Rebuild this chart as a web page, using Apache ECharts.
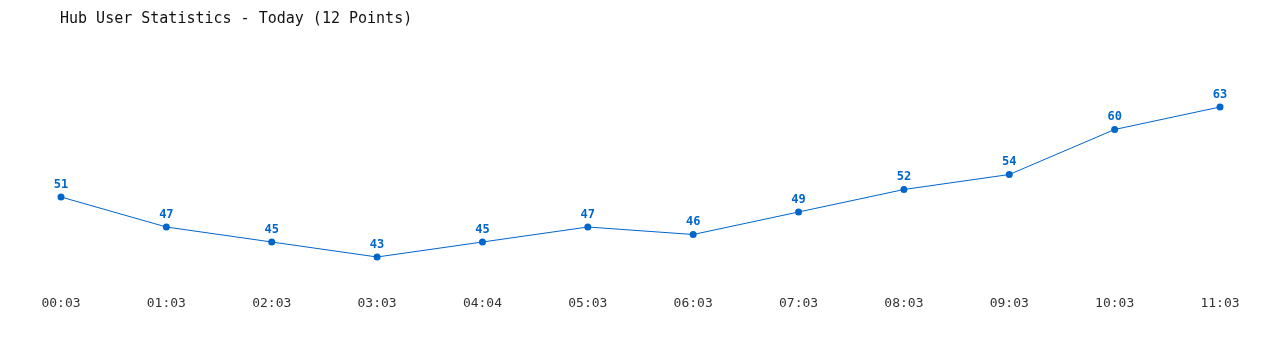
<!DOCTYPE html>
<html><head><meta charset="utf-8">
<script src="https://cdn.jsdelivr.net/npm/echarts@6/dist/echarts.min.js"></script>
<style>html,body{margin:0;padding:0;background:#fff}#c{width:1280px;height:350px}</style>
</head><body><div id="c"></div>
<script>
const categories = ["00:03","01:03","02:03","03:03","04:04","05:03","06:03","07:03","08:03","09:03","10:03","11:03"];
const users = [51,47,45,43,45,47,46,49,52,54,60,63];
const titleText = "Hub User Statistics - Today (12 Points)";
const chart = echarts.init(document.getElementById('c'));
chart.setOption({
  animation:false,
  backgroundColor:'#fff',
  title:{text:titleText,left:55,top:7,textStyle:{fontFamily:'DejaVu Sans Mono',fontSize:15,fontWeight:'normal',color:'#111'}},
  grid:{left:61,right:60,top:54.5,bottom:70.5},
  xAxis:{type:'category',data:categories,boundaryGap:false,
    axisLine:{show:false},axisTick:{show:false},splitLine:{show:false},
    axisLabel:{margin:18,fontFamily:'DejaVu Sans Mono',fontSize:13,color:'#333'}},
  yAxis:{type:'value',min:40,max:70,show:false,splitLine:{show:false}},
  series:[{type:'line',data:users,symbol:'circle',symbolSize:7,
    lineStyle:{color:'#0066cc',width:1},itemStyle:{color:'#0066cc'},
    label:{show:true,position:'top',distance:3,color:'#0066cc',fontFamily:'DejaVu Sans Mono',fontSize:12,fontWeight:'bold'}}]
});
</script></body></html>
